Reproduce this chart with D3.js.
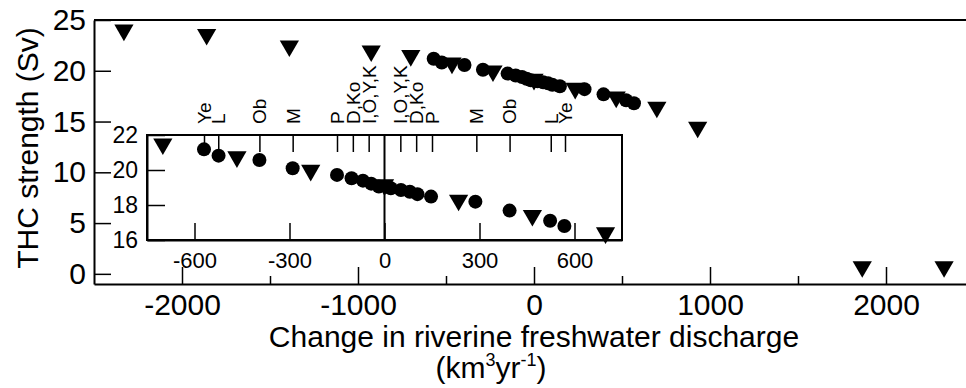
<!DOCTYPE html>
<html>
<head>
<meta charset="utf-8">
<script src="https://cdn.jsdelivr.net/npm/d3@7"></script>
<style>
    body { margin: 0; background: #fff; }
    svg { display: block; }
</style>
</head>
<body>
<div id="chart_div"></div>
<script>

// circles: single rivers, triangles: all rivers together (km3/yr, Sv)
const circle_x = [-570, -524, -395, -290, -150, -104, -68, -42, -18, 20, 52, 80, 104, 147, 287, 395, 523, 568];
const circle_y = [21.18, 20.82, 20.57, 20.10, 19.72, 19.53, 19.39, 19.22, 19.06, 18.96, 18.86, 18.76, 18.62, 18.48, 18.19, 17.68, 17.10, 16.80];

const triangle_x = [-2330, -1860, -1390, -925, -700, -466, -233, 0, 234, 467, 698, 930, 1865, 2330];
const triangle_y = [24.0, 23.57, 22.44, 21.95, 21.49, 20.75, 19.98, 19.15, 18.27, 17.4, 16.41, 14.44, 0.7, 0.7];

const river_labels = ['Ye', 'L', 'Ob', 'M', 'P', 'D,Ko', 'I,O,Y,K', 'I,O,Y,K', 'D,Ko', 'P', 'M', 'Ob', 'L', 'Ye'];
const river_label_x = [-570, -525, -395, -290, -150, -100, -50, 50, 100, 150, 290, 395, 525, 570];

const main_x_ticks = [-2000, -1000, 0, 1000, 2000];
const main_x_minor_ticks = [-1500, -500, 500, 1500];
const main_y_ticks = [0, 5, 10, 15, 20, 25];
const inset_x_ticks = [-600, -300, 0, 300, 600];
const inset_y_ticks = [16, 18, 20, 22];

const width = 966, height = 388;
const font_family = "'Liberation Sans', Arial, Helvetica, sans-serif";

function style_axis (axis_g, font_size) {
    axis_g.attr('font-size', font_size)
        .attr('font-family', font_family);
    axis_g.selectAll('line').attr('stroke-width', 1.5);
    axis_g.select('.domain').attr('stroke-width', 2);
}

function draw_points (g, x_scale, y_scale, circles, triangles) {
    g.selectAll('circle.pt').data(circles).enter().append('circle')
        .attr('class', 'pt')
        .attr('cx', d => x_scale(d[0]))
        .attr('cy', d => y_scale(d[1]))
        .attr('r', 7)
        .attr('fill', '#000');

    let tri = d3.symbol().type(d3.symbolTriangle).size(160);
    g.selectAll('path.tri').data(triangles).enter().append('path')
        .attr('class', 'tri')
        .attr('d', tri)
        .attr('transform', d => 'translate(' + x_scale(d[0]) + ',' + y_scale(d[1]) + ') rotate(180)')
        .attr('fill', '#000');
}

function initialize_chart () {
    let circles = circle_x.map((x, i) => [x, circle_y[i]]);
    let triangles = triangle_x.map((x, i) => [x, triangle_y[i]]);

    let svg = d3.select('#chart_div').append('svg')
        .attr('width', width)
        .attr('height', height)
        .style('background-color', '#fff');

    // ---- main plot
    let x_main = d3.scaleLinear().domain([-2500, 2500]).range([94, 974]);
    let y_main = d3.scaleLinear().domain([-1, 25]).range([284, 20]);

    let main_g = svg.append('g');

    main_g.append('line')
        .attr('x1', x_main(-2500)).attr('x2', x_main(2500))
        .attr('y1', y_main(25)).attr('y2', y_main(25))
        .attr('stroke', '#000').attr('stroke-width', 2);

    let x_axis_main = main_g.append('g')
        .attr('transform', 'translate(0,' + y_main(-1) + ')')
        .call(d3.axisBottom(x_main).tickValues(main_x_ticks).tickSize(-17).tickSizeOuter(0).tickPadding(10).tickFormat(d => String(d)));
    style_axis(x_axis_main, 30);

    let x_axis_minor = main_g.append('g')
        .attr('transform', 'translate(0,' + y_main(-1) + ')')
        .call(d3.axisBottom(x_main).tickValues(main_x_minor_ticks).tickSize(-8).tickFormat(''));
    x_axis_minor.select('.domain').remove();
    style_axis(x_axis_minor, 30);

    let y_axis_main = main_g.append('g')
        .attr('transform', 'translate(' + x_main(-2500) + ',0)')
        .call(d3.axisLeft(y_main).tickValues(main_y_ticks).tickSize(-17).tickSizeOuter(0).tickPadding(8).tickFormat(d => String(d)));
    style_axis(y_axis_main, 30);

    draw_points(main_g, x_main, y_main, circles, triangles);

    // ---- inset
    let x_inset = d3.scaleLinear().domain([-750, 750]).range([147, 622]);
    let y_inset = d3.scaleLinear().domain([16, 22]).range([240, 135]);

    let inset_g = svg.append('g');

    inset_g.append('rect')
        .attr('x', x_inset(-750))
        .attr('y', y_inset(22))
        .attr('width', x_inset(750) - x_inset(-750))
        .attr('height', y_inset(16) - y_inset(22))
        .attr('fill', '#fff')
        .attr('stroke', '#000')
        .attr('stroke-width', 2);

    inset_g.append('line')
        .attr('x1', x_inset(0)).attr('x2', x_inset(0))
        .attr('y1', y_inset(22)).attr('y2', y_inset(16))
        .attr('stroke', '#000').attr('stroke-width', 2);

    let x_axis_inset = inset_g.append('g')
        .attr('transform', 'translate(0,' + y_inset(16) + ')')
        .call(d3.axisBottom(x_inset).tickValues(inset_x_ticks).tickSize(-17).tickSizeOuter(0).tickPadding(12).tickFormat(d => String(d)));
    style_axis(x_axis_inset, 22);

    let y_axis_inset = inset_g.append('g')
        .attr('transform', 'translate(' + x_inset(-750) + ',0)')
        .call(d3.axisLeft(y_inset).tickValues(inset_y_ticks).tickSize(-18).tickSizeOuter(0).tickPadding(9).tickFormat(d => String(d)));
    style_axis(y_axis_inset, 23);

    let top_axis_inset = inset_g.append('g')
        .attr('transform', 'translate(0,' + y_inset(22) + ')')
        .call(d3.axisTop(x_inset).tickValues(river_label_x).tickSize(-17).tickSizeOuter(0).tickFormat(''));
    top_axis_inset.select('.domain').remove();
    style_axis(top_axis_inset, 18);

    let inset_circles = circles.filter(d => d[0] >= -750 && d[0] <= 750);
    let inset_triangles = triangles.filter(d => d[0] >= -750 && d[0] <= 750);
    draw_points(inset_g, x_inset, y_inset, inset_circles, inset_triangles);

    // river names above the inset
    inset_g.selectAll('text.river').data(river_label_x).enter().append('text')
        .attr('class', 'river')
        .attr('transform', d => 'translate(' + x_inset(d) + ',' + (y_inset(22) - 11) + ') rotate(-90)')
        .attr('dy', '0.36em')
        .style('font-family', font_family)
        .style('font-size', 19 + 'px')
        .style('text-anchor', 'start')
        .text((d, i) => river_labels[i]);

    // ---- titles
    svg.append('text')
        .attr('transform', 'translate(38,148) rotate(-90)')
        .style('font-family', font_family)
        .style('font-size', 30 + 'px')
        .style('text-anchor', 'middle')
        .text('THC strength (Sv)');

    svg.append('text')
        .attr('x', 534)
        .attr('y', 347)
        .style('font-family', font_family)
        .style('font-size', 30 + 'px')
        .style('text-anchor', 'middle')
        .text('Change in riverine freshwater discharge');

    let unit_text = svg.append('text')
        .attr('x', 491)
        .attr('y', 378)
        .style('font-family', font_family)
        .style('font-size', 30 + 'px')
        .style('text-anchor', 'middle');
    unit_text.append('tspan').text('(km');
    unit_text.append('tspan').attr('dy', -12).style('font-size', 18 + 'px').text('3');
    unit_text.append('tspan').attr('dy', 12).text('yr');
    unit_text.append('tspan').attr('dy', -12).style('font-size', 18 + 'px').text('-1');
    unit_text.append('tspan').attr('dy', 12).text(')');
}

initialize_chart();
</script>
</body>
</html>
